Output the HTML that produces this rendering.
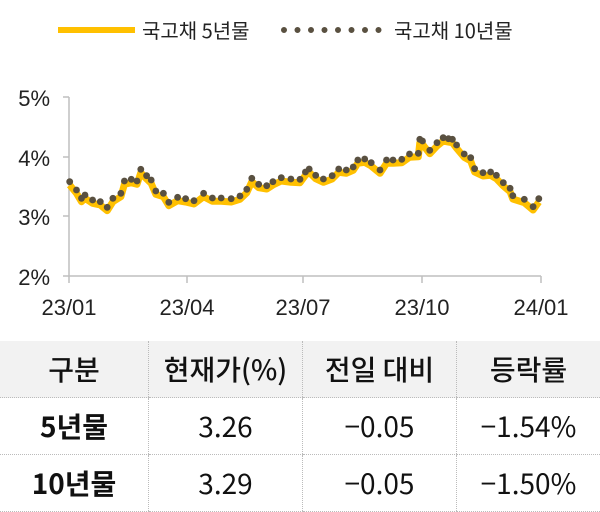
<!DOCTYPE html>
<html><head><meta charset="utf-8"><style>
body{margin:0;width:600px;height:504px;background:#fff;font-family:"Liberation Sans","Noto Sans CJK KR",sans-serif;overflow:hidden;position:relative}
table{position:absolute;left:0;top:341px;width:600px;border-collapse:collapse;font-family:"Noto Sans CJK KR",sans-serif}
td{border-bottom:1px dotted #bbb;border-left:1px dotted #bbb;text-align:center;font-size:28px;color:#111;padding:0;line-height:1}
td:first-child{border-left:none}
tr.h td{background:#f2f2f2;height:56px;font-weight:500}
tr.r td{height:56px}
</style></head><body>
<svg width="600" height="330" style="position:absolute;left:0;top:0">
<line x1="58" y1="30" x2="135" y2="30" stroke="#ffc000" stroke-width="6"/>
<line x1="284" y1="30" x2="380" y2="30" stroke="#595040" stroke-width="6" stroke-linecap="round" stroke-dasharray="0 13.5"/>
<g stroke="#bfbfbf" stroke-width="1.5" fill="none">
<path d="M69 97V276H541"/>
<path d="M63 97H69M63 157H69M63 216H69M63 276H69M69 276V283M187 276V283M303 276V283M422 276V283M541 276V283"/>
</g>
<path id="ln" fill="none" stroke="#ffc000" stroke-width="7" stroke-linejoin="round"/>
<g id="dt" fill="#595040"></g>
<g font-size="22" fill="#222" font-family="Liberation Sans,sans-serif">
<text x="50" y="106" text-anchor="end">5%</text>
<text x="50" y="166" text-anchor="end">4%</text>
<text x="50" y="225" text-anchor="end">3%</text>
<text x="50" y="285" text-anchor="end">2%</text>
<text x="69" y="315" text-anchor="middle">23/01</text>
<text x="187" y="315" text-anchor="middle">23/04</text>
<text x="303" y="315" text-anchor="middle">23/07</text>
<text x="422" y="315" text-anchor="middle">23/10</text>
<text x="541" y="315" text-anchor="middle">24/01</text>
</g>
<g font-size="20" fill="#222" font-family="Noto Sans CJK KR,sans-serif">
<text x="142" y="38">국고채 5년물</text>
<text x="394" y="38">국고채 10년물</text>
</g>
</svg>
<table>
<tr class="h"><td style="width:148px">구분</td><td style="width:153px">현재가(%)</td><td style="width:153px">전일 대비</td><td>등락률</td></tr>
<tr class="r"><td style="font-weight:bold">5년물</td><td>3.26</td><td>−0.05</td><td>−1.54%</td></tr>
<tr class="r"><td style="font-weight:bold">10년물</td><td>3.29</td><td>−0.05</td><td>−1.50%</td></tr>
</table>
<script>
var p=[182,305,200,330,213,355,222,345,242,360,262,365,280,382,295,355,316,340,325,303,343,298,358,303,368,268,383,287,395,300,407,333,427,340,441,367,464,352,485,356,507,362,532,340,555,354,578,354,604,356,627,348,645,328,658,295,676,313,697,317,713,305,735,293,760,297,784,298,798,276,808,267,825,286,845,297,868,287,885,267,905,270,923,261,935,240,953,237,970,248,993,270,1010,240,1027,240,1050,238,1070,222,1093,220,1097,178,1104,183,1123,211,1142,188,1158,173,1172,176,1182,178,1193,195,1213,222,1230,233,1240,266,1262,278,1282,276,1297,286,1315,308,1333,325,1340,347,1370,358,1393,380,1408,356];
function P(i,off){return [p[i]/2.613,80+(p[i+1]+off)/3];}
var s="";for(var i=0;i<p.length;i+=2){var q=P(i,10);s+=(i?"L":"M")+q[0].toFixed(1)+" "+q[1].toFixed(1);}
document.getElementById("ln").setAttribute("d",s);
var g=document.getElementById("dt"),h="";
for(var i=0;i<p.length;i+=2){var q=P(i,0);h+='<circle cx="'+q[0].toFixed(1)+'" cy="'+q[1].toFixed(1)+'" r="3.4"/>';}
g.innerHTML=h;
</script>
</body></html>
